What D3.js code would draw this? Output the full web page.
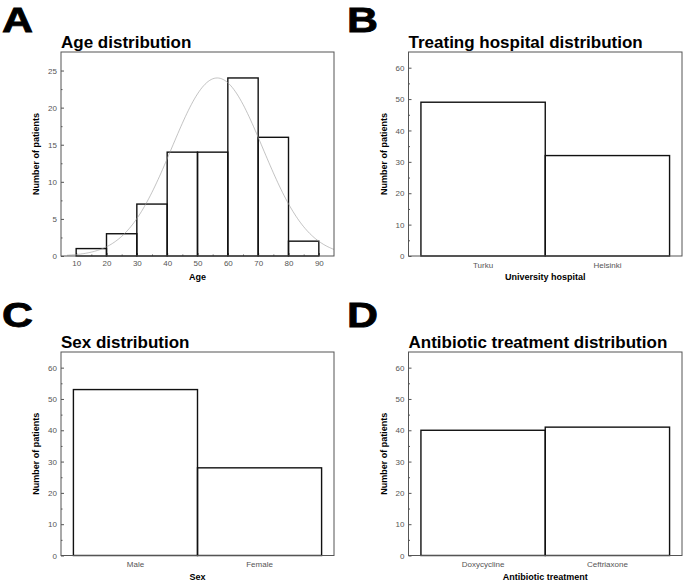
<!DOCTYPE html>
<meta charset="utf-8">
<style>
  body { margin: 0; background: #fff; }
  svg { font-family: "Liberation Sans", Arial, sans-serif; }
  .tick text { fill: #555; font-size: 8px; }
  .tick line { stroke: #555; }
</style>
<body>
<svg width="685" height="583"></svg>
<script src="https://d3js.org/d3.v7.min.js"></script>
<script>
// Panel A: age histogram
var ageBinStarts = [10, 20, 30, 40, 50, 60, 70, 80];
var ageCounts = [1, 3, 7, 14, 14, 24, 16, 2];
var ageBinWidth = 10;
// fitted normal curve
var fitMean = 56.5, fitSd = 15, fitPeak = 24;

// Panels B-D
var hospitals = ["Turku", "Helsinki"];
var hospitalCounts = [49, 32];
var sexes = ["Male", "Female"];
var sexCounts = [53, 28];
var antibiotics = ["Doxycycline", "Ceftriaxone"];
var antibioticCounts = [40, 41];

var svg = d3.select("svg");

var panels = [
    { letter: "A", lx: 2, ly: 32, left: 61, right: 334, top: 52, bottom: 256,
      title: "Age distribution", xlab: "Age" },
    { letter: "B", lx: 347, ly: 32, left: 408.5, right: 682, top: 52, bottom: 256,
      title: "Treating hospital distribution", xlab: "University hospital",
      cats: hospitals, vals: hospitalCounts },
    { letter: "C", lx: 2, ly: 327, left: 61, right: 334, top: 352, bottom: 555.5,
      title: "Sex distribution", xlab: "Sex", cats: sexes, vals: sexCounts },
    { letter: "D", lx: 347, ly: 327, left: 408.5, right: 682, top: 352, bottom: 555.5,
      title: "Antibiotic treatment distribution", xlab: "Antibiotic treatment",
      cats: antibiotics, vals: antibioticCounts }
];

panels.forEach(function(p) {
    var g = svg.append("g");

    g.append("text")
        .attr("x", p.lx).attr("y", p.ly)
        .attr("textLength", 31).attr("lengthAdjust", "spacingAndGlyphs")
        .style("font-size", "35px").style("font-weight", "bold")
        .attr("stroke", "#000").attr("stroke-width", 0.8)
        .text(p.letter);

    g.append("text")
        .attr("x", p.left).attr("y", p.top - 4)
        .style("font-size", "17px").style("font-weight", "bold")
        .text(p.title);

    var y;
    if (p.cats) {
        y = d3.scaleLinear().domain([0, 65]).range([p.bottom, p.top]);
    } else {
        y = d3.scaleLinear().domain([0, 27.5]).range([p.bottom, p.top]);
    }

    // y axis, ticks pointing inward
    var majorY = p.cats ? d3.range(0, 61, 10) : d3.range(0, 26, 5);
    var minorY = p.cats ? d3.range(5, 65, 10) : d3.range(2.5, 27.5, 5);
    g.append("g")
        .attr("transform", "translate(" + p.left + ",0)")
        .call(d3.axisLeft(y).tickValues(minorY).tickSize(-1.5).tickFormat(""))
        .call(function(a) { a.select(".domain").remove(); });
    g.append("g")
        .attr("transform", "translate(" + p.left + ",0)")
        .call(d3.axisLeft(y).tickValues(majorY).tickSize(-3).tickPadding(4))
        .call(function(a) { a.select(".domain").remove(); });

    if (p.cats) {
        var x = d3.scaleBand().domain(p.cats).range([p.left, p.right])
            .paddingInner(0).paddingOuter(0.1);
        g.append("g")
            .attr("transform", "translate(0," + p.bottom + ")")
            .call(d3.axisBottom(x).tickSize(0).tickPadding(6))
            .call(function(a) { a.select(".domain").remove(); });
        g.selectAll("rect.bar")
            .data(p.cats)
            .enter().append("rect")
            .attr("class", "bar")
            .attr("x", function(d) { return x(d); })
            .attr("width", x.bandwidth())
            .attr("y", function(d, i) { return y(p.vals[i]); })
            .attr("height", function(d, i) { return p.bottom - y(p.vals[i]); })
            .attr("fill", "none").attr("stroke", "#111").attr("stroke-width", 1.4);
    } else {
        var xa = d3.scaleLinear().domain([5, 95]).range([p.left, p.right]);
        g.append("g")
            .attr("transform", "translate(0," + p.bottom + ")")
            .call(d3.axisBottom(xa).tickValues(d3.range(15, 95, 10)).tickSize(-1.5).tickFormat(""))
            .call(function(a) { a.select(".domain").remove(); });
        g.append("g")
            .attr("transform", "translate(0," + p.bottom + ")")
            .call(d3.axisBottom(xa).tickValues(d3.range(10, 91, 10)).tickSize(-3).tickPadding(4))
            .call(function(a) { a.select(".domain").remove(); });

        g.selectAll("rect.bar")
            .data(ageBinStarts)
            .enter().append("rect")
            .attr("class", "bar")
            .attr("x", function(d) { return xa(d); })
            .attr("width", function(d) { return xa(d + ageBinWidth) - xa(d); })
            .attr("y", function(d, i) { return y(ageCounts[i]); })
            .attr("height", function(d, i) { return p.bottom - y(ageCounts[i]); })
            .attr("fill", "none").attr("stroke", "#111").attr("stroke-width", 1.4);

        var curveX = d3.range(7, 95.01, 0.5);
        var line = d3.line()
            .x(function(d) { return xa(d); })
            .y(function(d) {
                var z = (d - fitMean) / fitSd;
                return y(fitPeak * Math.exp(-0.5 * z * z));
            });
        g.append("path")
            .datum(curveX)
            .attr("d", line)
            .attr("fill", "none").attr("stroke", "#9a9a9a").attr("stroke-width", 0.6);
    }

    // frame
    g.append("rect")
        .attr("x", p.left).attr("y", p.top)
        .attr("width", p.right - p.left).attr("height", p.bottom - p.top)
        .attr("fill", "none").attr("stroke", "#555").attr("stroke-width", 1);

    g.append("text")
        .attr("x", (p.left + p.right) / 2).attr("y", p.bottom + 24)
        .attr("text-anchor", "middle")
        .style("font-size", "9px").style("font-weight", "bold")
        .text(p.xlab);

    g.append("text")
        .attr("transform", "translate(" + (p.left - 22) + "," + ((p.top + p.bottom) / 2) + ") rotate(-90)")
        .attr("text-anchor", "middle")
        .style("font-size", "9px").style("font-weight", "bold")
        .text("Number of patients");
});
</script>
</body>
